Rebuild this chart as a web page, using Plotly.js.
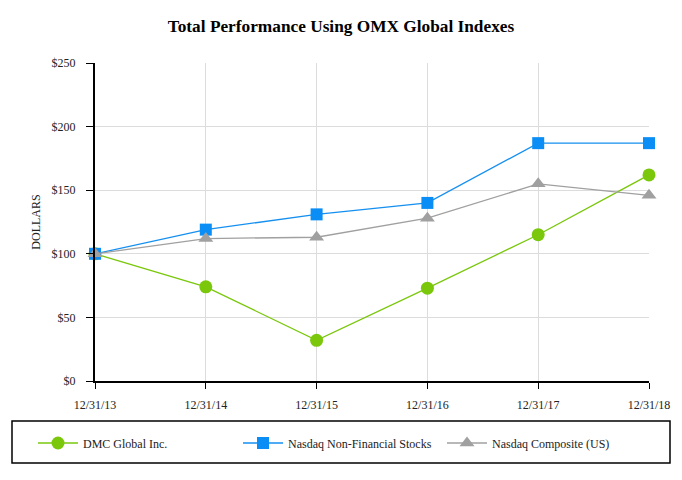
<!DOCTYPE html>
<html>
<head>
<meta charset="utf-8">
<script src="https://cdn.plot.ly/plotly-3.0.1.min.js"></script>
<style>html,body{margin:0;padding:0;background:#fff;}#chart{width:682px;height:480px;}</style>
</head>
<body>
<div id="chart"></div>
<script>
const categories = ["12/31/13", "12/31/14", "12/31/15", "12/31/16", "12/31/17", "12/31/18"];
const dmcValues = [100, 74, 32, 73, 115, 162];
const nonFinValues = [100, 119, 131, 140, 187, 187];
const compositeValues = [100, 112, 113, 128, 155, 146];
const seriesNames = ["DMC Global Inc.", "Nasdaq Non-Financial Stocks", "Nasdaq Composite (US)"];

const serif = "Liberation Serif";

const traces = [
  {
    x: categories, y: dmcValues, name: seriesNames[0], type: "scatter", mode: "lines+markers",
    line: {color: "#7ac70c", width: 1.3},
    marker: {symbol: "circle", size: 13, color: "#7ac70c"},
    cliponaxis: false, legend: "legend"
  },
  {
    x: categories, y: nonFinValues, name: seriesNames[1], type: "scatter", mode: "lines+markers",
    line: {color: "#1590f0", width: 1.3},
    marker: {symbol: "square", size: 12, color: "#0a8ef5"},
    cliponaxis: false, legend: "legend2"
  },
  {
    x: categories, y: compositeValues, name: seriesNames[2], type: "scatter", mode: "lines+markers",
    line: {color: "#a0a0a0", width: 1.3},
    marker: {symbol: "triangle-up", size: 13, color: "#a0a0a0"},
    cliponaxis: false, legend: "legend3"
  }
];

function legendAt(px) {
  return {
    orientation: "h",
    x: px/682, xref: "container", xanchor: "left",
    y: 1 - 443/480, yref: "container", yanchor: "middle",
    itemwidth: 40,
    font: {family: serif, size: 12, color: "#222"},
    bgcolor: "rgba(0,0,0,0)", borderwidth: 0
  };
}

const layout = {
  width: 682, height: 480,
  margin: {l: 95, r: 33, t: 63, b: 99},
  paper_bgcolor: "#ffffff", plot_bgcolor: "#ffffff",
  font: {family: serif, size: 12, color: "#222"},
  title: {
    text: "<b>Total Performance Using OMX Global Indexes</b>",
    font: {family: serif, size: 17.3, color: "#000"},
    x: 0.5, xref: "container", xanchor: "center",
    y: 1 - 26/480, yref: "container", yanchor: "middle"
  },
  xaxis: {
    type: "category", range: [0, 5],
    showgrid: true, gridcolor: "#dcdcdc", gridwidth: 1,
    showline: true, linecolor: "#000", linewidth: 2,
    ticks: "outside", ticklen: 6, tickcolor: "#000", tickwidth: 1,
    ticklabelstandoff: 6,
    tickfont: {family: serif, size: 12, color: "#222"},
    zeroline: false, fixedrange: true
  },
  yaxis: {
    range: [0, 250], dtick: 50, tickprefix: "$",
    showgrid: true, gridcolor: "#dcdcdc", gridwidth: 1,
    showline: true, linecolor: "#000", linewidth: 2,
    ticks: "outside", ticklen: 7, tickcolor: "#000", tickwidth: 1,
    ticklabelstandoff: 8,
    tickfont: {family: serif, size: 12, color: "#222"},
    title: {text: "DOLLARS", font: {family: serif, size: 12, color: "#222"}, standoff: 8},
    zeroline: false, fixedrange: true
  },
  showlegend: true,
  legend: legendAt(33),
  legend2: legendAt(238),
  legend3: legendAt(442),
  shapes: [
    {type: "rect", xref: "paper", yref: "paper",
     x0: (12-95)/554, x1: (670-95)/554,
     y0: (381-463)/318, y1: (381-421)/318,
     line: {color: "#000", width: 1.5}, fillcolor: "rgba(0,0,0,0)"}
  ]
};

Plotly.newPlot("chart", traces, layout, {displayModeBar: false, staticPlot: true});
</script>
</body>
</html>
